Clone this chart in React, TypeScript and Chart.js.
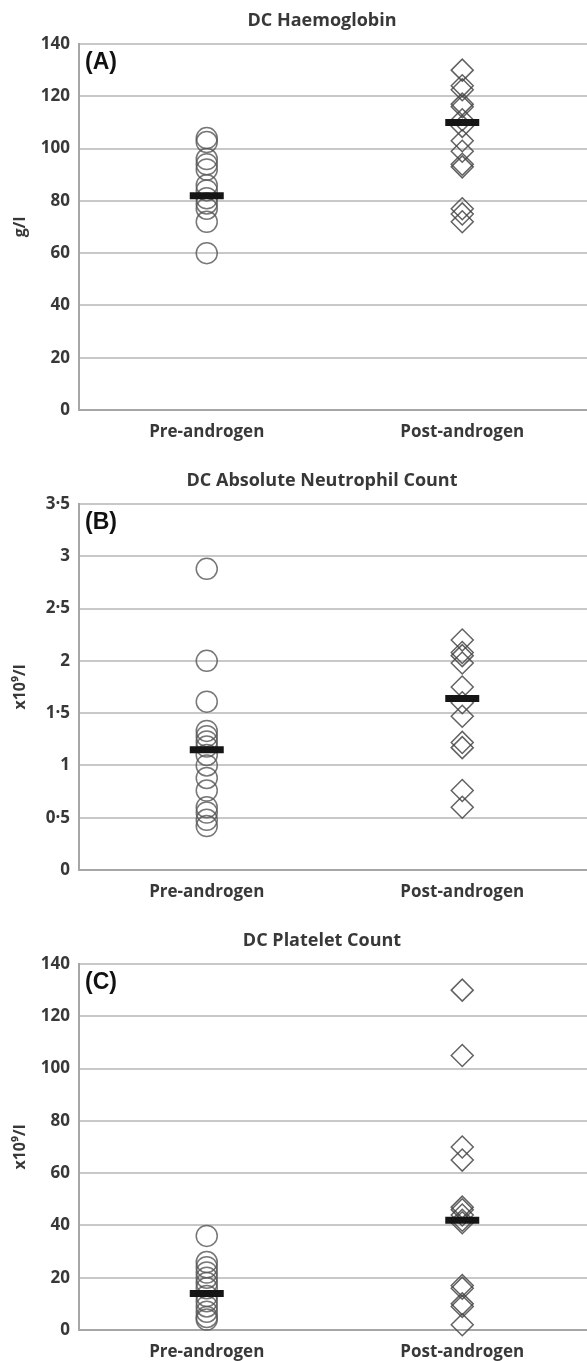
import React, { useEffect, useRef } from 'react';
import { Chart, registerables } from 'chart.js';

Chart.register(...registerables);

const CATEGORIES = ['Pre-androgen', 'Post-androgen'];

// Panel A – Haemoglobin (g/l)
const HB_PRE = [104, 102.5, 96, 94, 92, 86, 84, 81, 79, 77, 72, 60];
const HB_POST = [130, 124, 122.5, 117, 116, 111, 108.5, 103, 99, 94, 93, 77, 75, 72];
const HB_MEAN = [82, 110];
const HB_TICK_LABELS = ['0', '20', '40', '60', '80', '100', '120', '140'];

// Panel B – Absolute neutrophil count (x10^9/l)
const ANC_PRE = [2.88, 2.0, 1.61, 1.33, 1.28, 1.23, 1.18, 1.1, 1.0, 0.88, 0.76, 0.6, 0.55, 0.48, 0.42];
const ANC_POST = [2.2, 2.08, 2.05, 1.98, 1.75, 1.6, 1.47, 1.22, 1.17, 0.76, 0.6];
const ANC_MEAN = [1.15, 1.64];
const ANC_TICK_LABELS = ['0', '0·5', '1', '1·5', '2', '2·5', '3', '3·5'];

// Panel C – Platelet count (x10^9/l)
const PLT_PRE = [36, 26, 24, 22, 20, 18, 16, 13, 11, 9, 7, 5, 4];
const PLT_POST = [130, 105, 70, 65, 47, 46, 44, 42, 41, 17, 16, 10, 9, 2];
const PLT_MEAN = [14, 42];
const PLT_TICK_LABELS = ['0', '20', '40', '60', '80', '100', '120', '140'];

const FONT = "'Open Sans', 'DejaVu Sans', sans-serif";
const TEXT = '#383838';

const letterPlugin = {
  id: 'panelLetter',
  afterDraw(chart: any, _args: any, opts: any) {
    const { ctx, chartArea } = chart;
    ctx.save();
    ctx.font = "bold 23px 'Liberation Sans', Arial, sans-serif";
    ctx.fillStyle = '#111111';
    ctx.textAlign = 'left';
    ctx.textBaseline = 'middle';
    ctx.fillText(opts.text, chartArea.left + 6, chartArea.top + 19);
    ctx.restore();
  },
};

type PanelProps = {
  title: string;
  letter: string;
  yTitle: string;
  pre: number[];
  post: number[];
  mean: number[];
  max: number;
  step: number;
  tickLabels: string[];
};

function Panel(p: PanelProps) {
  const ref = useRef<HTMLCanvasElement | null>(null);
  useEffect(() => {
    if (!ref.current) return;
    const chart = new Chart(ref.current, {
      type: 'line',
      data: {
        labels: CATEGORIES,
        datasets: [
          {
            data: p.mean.map((v, i) => ({ x: CATEGORIES[i], y: v })),
            showLine: false,
            pointStyle: 'line',
            pointRadius: 17,
            pointHoverRadius: 17,
            pointBorderWidth: 7,
            pointBorderColor: '#151515',
            borderColor: '#151515',
            order: 0,
            clip: false,
          } as any,
          {
            data: p.pre.map((v) => ({ x: CATEGORIES[0], y: v })),
            showLine: false,
            pointStyle: 'circle',
            pointRadius: 10.5,
            pointHoverRadius: 10.5,
            pointBorderWidth: 1.5,
            pointBorderColor: 'rgba(85,85,85,0.8)',
            pointBackgroundColor: 'rgba(0,0,0,0)',
            order: 1,
            clip: false,
          } as any,
          {
            data: p.post.map((v) => ({ x: CATEGORIES[1], y: v })),
            showLine: false,
            pointStyle: 'rectRot',
            pointRadius: 11,
            pointHoverRadius: 11,
            pointBorderWidth: 1.5,
            pointBorderColor: 'rgba(70,70,70,0.85)',
            pointBackgroundColor: 'rgba(0,0,0,0)',
            order: 1,
            clip: false,
          } as any,
        ],
      },
      options: {
        responsive: false,
        animation: false,
        events: [],
        layout: { padding: 0 },
        plugins: {
          legend: { display: false },
          tooltip: { enabled: false },
          title: {
            display: true,
            text: p.title,
            color: TEXT,
            font: { family: FONT, size: 18, weight: 'bold' },
            padding: { top: 10, bottom: 12.4 },
          },
          panelLetter: { text: p.letter },
        } as any,
        scales: {
          x: {
            type: 'category',
            offset: true,
            grid: { display: false },
            border: { display: true, color: '#a6a6a6', width: 2 },
            ticks: {
              color: TEXT,
              font: { family: FONT, size: 17, weight: 'bold' },
              padding: 4,
              maxRotation: 0,
            },
            afterFit: (s: any) => {
              s.height = 50;
            },
          },
          y: {
            min: 0,
            max: p.max,
            ticks: {
              stepSize: p.step,
              color: TEXT,
              font: { family: FONT, size: 17, weight: 'bold' },
              padding: 9,
              callback: (_v: any, i: number) => p.tickLabels[i],
            },
            grid: { color: '#c8c8c8', lineWidth: 2, drawTicks: false },
            border: { display: true, color: '#a6a6a6', width: 2 },
            title: {
              display: true,
              text: p.yTitle,
              color: TEXT,
              font: { family: FONT, size: 16, weight: 'bold' },
              padding: { top: 11, bottom: 0 },
            },
            afterFit: (s: any) => {
              s.width = 79;
            },
          },
          yRight: {
            position: 'right',
            display: true,
            grid: { display: false, drawTicks: false },
            border: { display: false },
            ticks: { display: false },
            afterFit: (s: any) => {
              s.width = 54;
            },
          },
        },
      } as any,
      plugins: [letterPlugin],
    });
    return () => chart.destroy();
  }, []);
  return (
    <div style={{ width: 644, height: 460 }}>
      <canvas ref={ref} width={644} height={460} />
    </div>
  );
}

export default function App() {
  return (
    <div
      style={{
        position: 'absolute',
        left: 0,
        top: 0,
        width: 587,
        height: 1361,
        overflow: 'hidden',
        background: '#ffffff',
      }}
    >
      <Panel
        title="DC Haemoglobin"
        letter="(A)"
        yTitle="g/l"
        pre={HB_PRE}
        post={HB_POST}
        mean={HB_MEAN}
        max={140}
        step={20}
        tickLabels={HB_TICK_LABELS}
      />
      <Panel
        title="DC Absolute Neutrophil Count"
        letter="(B)"
        yTitle="x10⁹/l"
        pre={ANC_PRE}
        post={ANC_POST}
        mean={ANC_MEAN}
        max={3.5}
        step={0.5}
        tickLabels={ANC_TICK_LABELS}
      />
      <Panel
        title="DC Platelet Count"
        letter="(C)"
        yTitle="x10⁹/l"
        pre={PLT_PRE}
        post={PLT_POST}
        mean={PLT_MEAN}
        max={140}
        step={20}
        tickLabels={PLT_TICK_LABELS}
      />
    </div>
  );
}
